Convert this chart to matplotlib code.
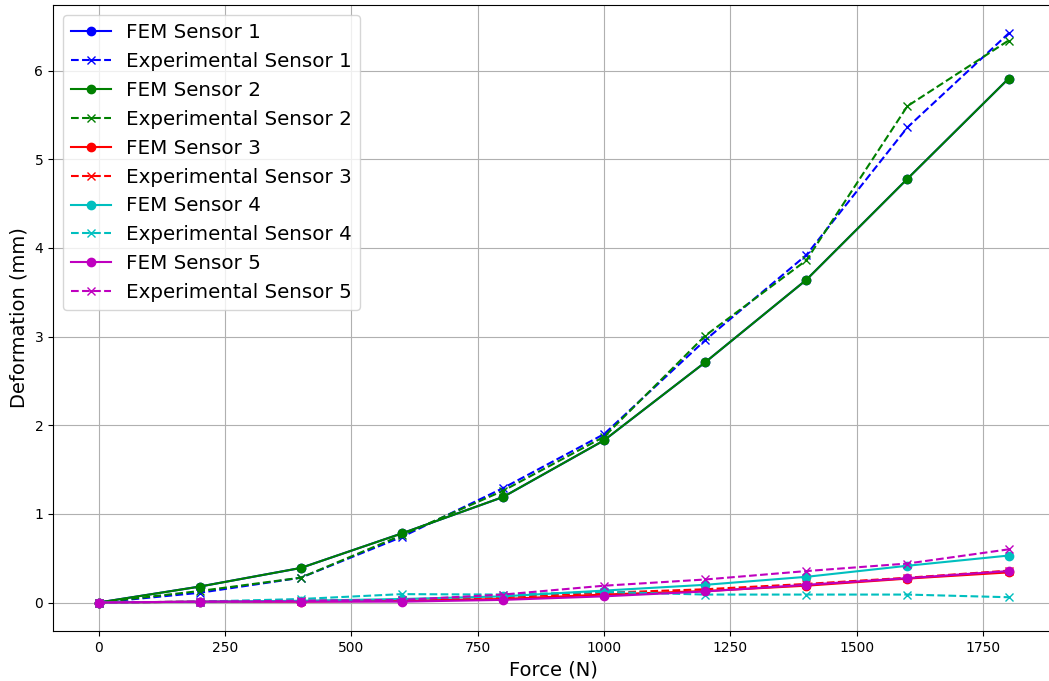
import matplotlib
matplotlib.use("Agg")
import matplotlib.pyplot as plt

force = [0, 200, 400, 600, 800, 1000, 1200, 1400, 1600, 1800]

fem_1 = [0, 0.18, 0.39, 0.78, 1.19, 1.83, 2.71, 3.64, 4.78, 5.91]
exp_1 = [0, 0.11, 0.28, 0.74, 1.29, 1.90, 2.96, 3.92, 5.36, 6.42]
fem_2 = [0, 0.18, 0.39, 0.78, 1.19, 1.83, 2.71, 3.64, 4.78, 5.91]
exp_2 = [0, 0.13, 0.28, 0.76, 1.26, 1.87, 3.01, 3.86, 5.60, 6.34]
fem_3 = [0, 0.01, 0.01, 0.02, 0.04, 0.09, 0.13, 0.19, 0.27, 0.34]
exp_3 = [0, 0.01, 0.02, 0.03, 0.06, 0.11, 0.15, 0.21, 0.28, 0.36]
fem_4 = [0, 0.01, 0.02, 0.04, 0.07, 0.135, 0.20, 0.29, 0.415, 0.53]
exp_4 = [0, 0.01, 0.04, 0.095, 0.09, 0.12, 0.09, 0.09, 0.09, 0.06]
fem_5 = [0, 0.01, 0.01, 0.01, 0.03, 0.07, 0.125, 0.20, 0.275, 0.355]
exp_5 = [0, 0.01, 0.02, 0.03, 0.09, 0.19, 0.26, 0.355, 0.44, 0.60]

fem = [fem_1, fem_2, fem_3, fem_4, fem_5]
exp = [exp_1, exp_2, exp_3, exp_4, exp_5]
colors = ['b', 'g', 'r', 'c', 'm']

fig = plt.figure(figsize=(10.49, 6.81), dpi=100)
ax = fig.add_axes([53/1049, 1 - 631/681, (1054-53)/1049, (631-5)/681])

for i in range(5):
    ax.plot(force, fem[i], '-o', color=colors[i], label=f'FEM Sensor {i+1}')
    ax.plot(force, exp[i], '--x', color=colors[i], label=f'Experimental Sensor {i+1}')

ax.set_xlabel('Force (N)', fontsize=14)
ax.set_ylabel('Deformation (mm)', fontsize=14)
ax.grid(True)
ax.legend(loc='upper left', fontsize=14.3)

fig.savefig('out.png', dpi=100)
